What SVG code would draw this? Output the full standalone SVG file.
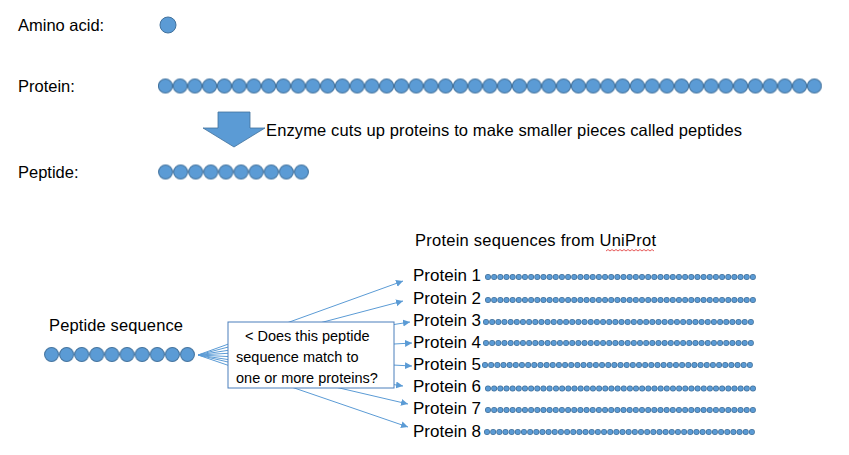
<svg xmlns="http://www.w3.org/2000/svg" width="849" height="455" viewBox="0 0 849 455">
<style>
text{font-family:"Liberation Sans",Arial,sans-serif;fill:#000}
.lbl{font-size:16.5px}
.pl{font-size:17px}
.bx{font-size:14.5px}
.aa{fill:#5B9BD5;stroke:#41719C;stroke-width:1}
.con{stroke:#5B9BD5;stroke-width:1;fill:none}
.so{stroke:#41719C;stroke-width:6;stroke-linecap:round;stroke-dasharray:0 6.16;fill:none}
.si{stroke:#5B9BD5;stroke-width:4.6;stroke-linecap:round;stroke-dasharray:0 6.16;fill:none}
</style>
<defs>
<pattern id="big" patternUnits="userSpaceOnUse" x="158" y="78.5" width="14.75" height="15"><circle cx="7.4" cy="7.5" r="7" class="aa"/></pattern>
<pattern id="pep1" patternUnits="userSpaceOnUse" x="158" y="164.5" width="15.1" height="15"><circle cx="7.55" cy="7.5" r="7" class="aa"/></pattern>
<pattern id="pep2" patternUnits="userSpaceOnUse" x="44" y="347" width="15.1" height="15"><circle cx="7.55" cy="7.5" r="7" class="aa"/></pattern>
<marker id="ah" markerUnits="userSpaceOnUse" markerWidth="8" markerHeight="8" refX="7" refY="3.5" orient="auto"><path d="M0,0 L7,3.5 L0,7 z" fill="#5B9BD5"/></marker>
</defs>

<g id="amino-acid">
<text class="lbl" x="18" y="31">Amino acid:</text>
<circle cx="168" cy="25" r="8" class="aa"/>
</g>

<g id="protein">
<text class="lbl" x="18" y="92">Protein:</text>
<rect x="158" y="78.5" width="663.75" height="15" fill="url(#big)"/>
</g>

<g id="enzyme-arrow">
<polygon points="218,112 250,112 250,128 265,128 234,147 203,128 218,128" fill="#5B9BD5" stroke="#41719C" stroke-width="0.8"/>
<text class="lbl" x="266" y="136" textLength="476">Enzyme cuts up proteins to make smaller pieces called peptides</text>
</g>

<g id="peptide">
<text class="lbl" x="18" y="178">Peptide:</text>
<rect x="158" y="164.5" width="151" height="15" fill="url(#pep1)"/>
</g>

<g id="uniprot-title">
<text class="lbl" x="415" y="246" textLength="241">Protein sequences from UniProt</text>
<path d="M606,251 l2,-1.5 l2,1.5 l2,-1.5 l2,1.5 l2,-1.5 l2,1.5 l2,-1.5 l2,1.5 l2,-1.5 l2,1.5 l2,-1.5 l2,1.5 l2,-1.5 l2,1.5 l2,-1.5 l2,1.5 l2,-1.5 l2,1.5 l2,-1.5 l2,1.5 l2,-1.5 l2,1.5 l2,-1.5 l2,1.5" fill="none" stroke="#E03030" stroke-width="0.8"/>
</g>

<g id="peptide-sequence">
<text class="lbl" x="49" y="331" textLength="134">Peptide sequence</text>
<rect x="44" y="347" width="151" height="15" fill="url(#pep2)"/>
</g>

<g id="connectors">
<line class="con" x1="198" y1="355" x2="403" y2="281" marker-end="url(#ah)"/>
<line class="con" x1="198" y1="355" x2="403" y2="301" marker-end="url(#ah)"/>
<line class="con" x1="198" y1="355" x2="410" y2="322" marker-end="url(#ah)"/>
<line class="con" x1="198" y1="355" x2="412" y2="343" marker-end="url(#ah)"/>
<line class="con" x1="198" y1="355" x2="412" y2="366" marker-end="url(#ah)"/>
<line class="con" x1="198" y1="355" x2="403" y2="386" marker-end="url(#ah)"/>
<line class="con" x1="198" y1="355" x2="408" y2="404" marker-end="url(#ah)"/>
<line class="con" x1="198" y1="355" x2="408" y2="427" marker-end="url(#ah)"/>
</g>

<g id="question-box">
<rect x="228" y="322" width="166" height="66" fill="#fff" stroke="#4A7EBB" stroke-width="1"/>
<text class="bx" x="245" y="341">&lt; Does this peptide</text>
<text class="bx" x="236" y="362">sequence match to</text>
<text class="bx" x="236" y="383">one or more proteins?</text>
</g>

<g id="protein-1"><text class="pl" x="413" y="281">Protein 1</text>
<path class="so" d="M488,277 H754"/><path class="si" d="M488,277 H754"/></g>
<g id="protein-2"><text class="pl" x="413" y="304">Protein 2</text>
<path class="so" d="M488,300 H754"/><path class="si" d="M488,300 H754"/></g>
<g id="protein-3"><text class="pl" x="413" y="326">Protein 3</text>
<path class="so" d="M486,322 H752"/><path class="si" d="M486,322 H752"/></g>
<g id="protein-4"><text class="pl" x="413" y="348">Protein 4</text>
<path class="so" d="M486,343 H752"/><path class="si" d="M486,343 H752"/></g>
<g id="protein-5"><text class="pl" x="413" y="370">Protein 5</text>
<path class="so" d="M485,365 H751"/><path class="si" d="M485,365 H751"/></g>
<g id="protein-6"><text class="pl" x="413" y="392">Protein 6</text>
<path class="so" d="M488,388.5 H550 M556,388.5 H630 M636,388.5 H710 M716,388.5 H754"/>
<path class="si" d="M488,388.5 H550 M556,388.5 H630 M636,388.5 H710 M716,388.5 H754"/></g>
<g id="protein-7"><text class="pl" x="413" y="414">Protein 7</text>
<path class="so" d="M488,410 H754"/><path class="si" d="M488,410 H754"/></g>
<g id="protein-8"><text class="pl" x="413" y="437">Protein 8</text>
<path class="so" d="M487,432 H753"/><path class="si" d="M487,432 H753"/></g>
</svg>
